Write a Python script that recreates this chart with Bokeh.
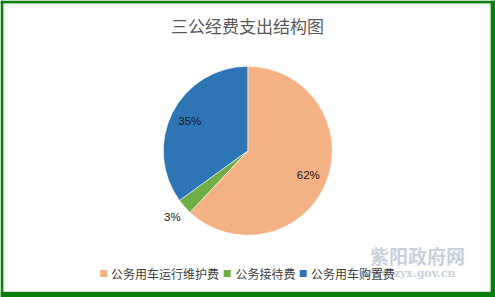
import math
from bokeh.plotting import figure
from bokeh.models import Range1d
from bokeh.core.properties import value
from bokeh.embed import file_html
from bokeh.resources import INLINE

# ---- data ----
title_text = "三公经费支出结构图"
categories = ["公务用车运行维护费", "公务接待费", "公务用车购置费"]
shares = [62, 3, 35]
labels = ["62%", "3%", "35%"]
colors = ["#F4B183", "#70AD47", "#2E75B6"]
label_radius_factor = [0.77, 1.19, 0.77]

W, H = 495, 297
p = figure(width=W, height=H, output_backend="svg", toolbar_location=None,
           x_range=Range1d(0, W), y_range=Range1d(0, H), min_border=0)
p.axis.visible = False
p.grid.visible = False
p.outline_line_color = None
p.background_fill_color = "white"
p.border_fill_color = "white"

def Y(y):
    return H - y

# green frame
p.quad(left=[0, 490, 0, 0], right=[3, 495, 495, 495],
       bottom=[0, 0, Y(3), 0], top=[H, H, H, Y(291.5)],
       fill_color="#0A7E0A", line_color=None)
p.quad(left=[3.5], right=[489.5], bottom=[Y(291)], top=[Y(3.5)],
       fill_color=None, line_color="#CFE3CF", line_width=1)

# pie
cx, cy, r = 247.3, Y(150.3), 84.5
total = float(sum(shares))
cum = 0.0
starts, ends, lx, ly = [], [], [], []
for s, f in zip(shares, label_radius_factor):
    a0 = math.pi / 2 - 2 * math.pi * cum / total
    cum += s
    a1 = math.pi / 2 - 2 * math.pi * cum / total
    starts.append(a0)
    ends.append(a1)
    mid = (a0 + a1) / 2
    lx.append(cx + r * f * math.cos(mid))
    ly.append(cy + r * f * math.sin(mid))

p.wedge(x=cx, y=cy, radius=r, start_angle=starts, end_angle=ends,
        direction="clock", fill_color=colors, line_color="white", line_width=0.6)

p.text(x=lx, y=ly, text=labels, text_align="center", text_baseline="middle",
       text_font=value("Liberation Sans"), text_font_size="11.5px", text_color="#1a1a1a")

# title
p.text(x=[247], y=[Y(25)], text=[title_text], text_align="center", text_baseline="middle",
       text_font=value("Noto Sans CJK SC"), text_font_size="17px", text_color="#595959")

# watermark
p.text(x=[417], y=[Y(255)], text=["紫阳政府网"], text_align="center", text_baseline="middle",
       text_font=value("Noto Sans CJK SC"), text_font_size="19px", text_font_style="bold",
       text_color="#C9D1DD")
p.text(x=[455], y=[Y(273)], text=["www.zyx.gov.cn"], text_align="right", text_baseline="middle",
       text_font=value("DejaVu Serif"), text_font_size="11px", text_font_style="bold",
       text_color="#C9D1DD")

# legend
sq_x = [103.3, 226.7, 302.7]
txt_x = [110.5, 235.0, 310.5]
ly_leg = Y(273)
p.rect(x=sq_x, y=[ly_leg] * 3, width=7, height=7, fill_color=colors, line_color=None)
p.text(x=txt_x, y=[ly_leg] * 3, text=categories, text_align="left", text_baseline="middle",
       text_font=value("Noto Sans CJK SC"), text_font_size="12px", text_color="#404040")

open("out.html", "w").write(file_html(p, INLINE))
